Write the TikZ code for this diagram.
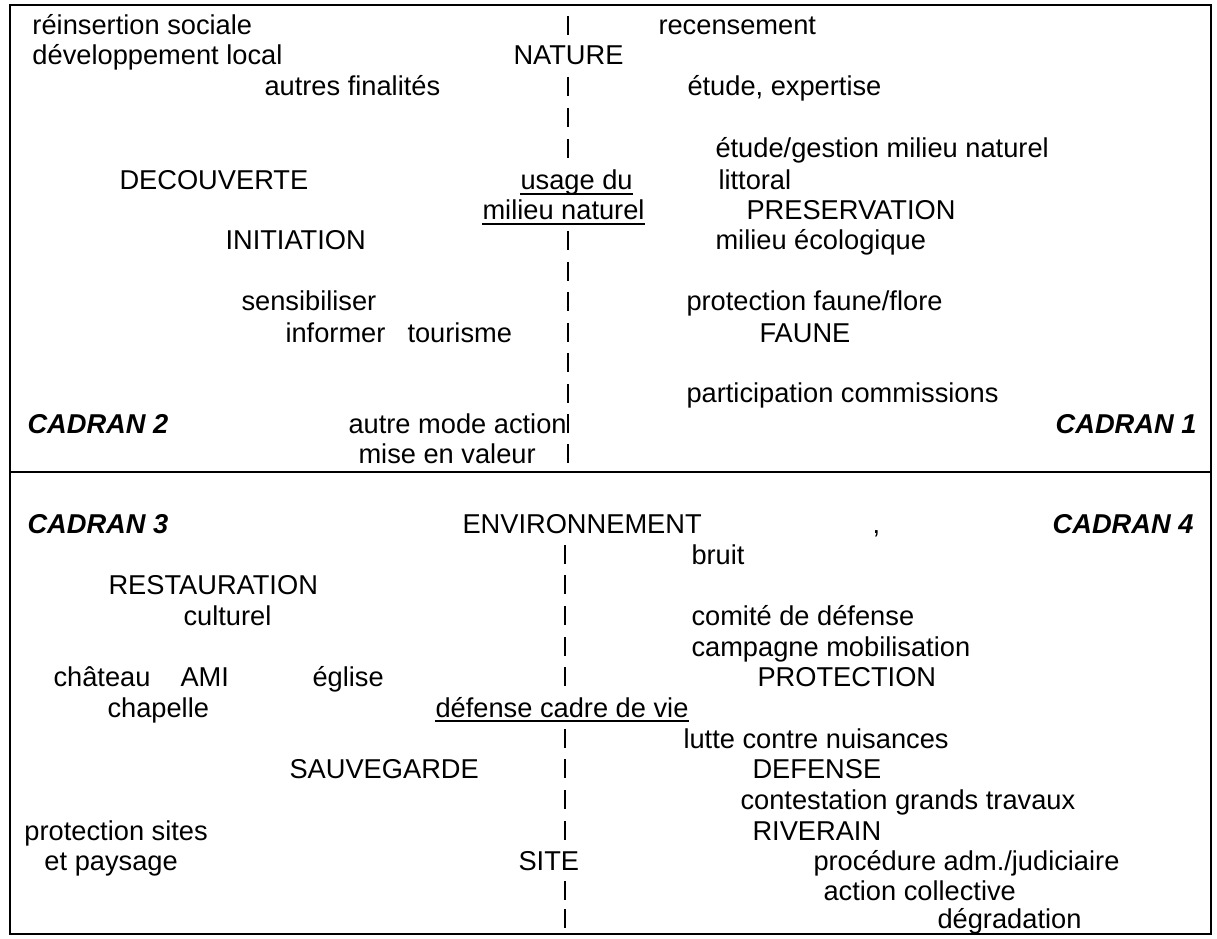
\documentclass[tikz,border=0pt]{standalone}
\usepackage{fontspec}
\setmainfont{Liberation Sans}
\usepackage{tikz}

\tikzset{
  lbl/.style={anchor=base west, inner sep=0pt, font=\fontsize{10.9}{13}\selectfont},
  cadran/.style={lbl, font=\fontsize{10.9}{13}\selectfont\bfseries\itshape},
  axistick/.style={line width=1pt},
  uline/.style={line width=0.6pt},
  frame/.style={line width=0.8pt}
}

\begin{document}
\begin{tikzpicture}[x=0.4pt,y=-0.4pt]

	\useasboundingbox (0,0) rectangle (1217,938);
	\def\axistop{568}
	\def\axisbot{565}

	% frame and the two halves
	\draw[frame] (10,5) rectangle (1211,934);
	\draw[frame] (10,472) -- (1211,472);

	% top half, left
	\node[lbl] (reinsertion) at (32,35) {réinsertion sociale};
	\node[lbl] (devlocal) at (32,65) {développement local};
	\node[lbl] (nature) at (513,65) {NATURE};
	\node[lbl] (finalites) at (264,96) {autres finalités};
	\node[lbl] (decouverte) at (119,190) {DECOUVERTE};
	\node[lbl] (usage) at (520,190) {usage du};
	\node[lbl] (milieu) at (482,220) {milieu naturel};
	\node[lbl] (initiation) at (225,250) {INITIATION};
	\node[lbl] (sensib) at (241,311) {sensibiliser};
	\node[lbl] (informer) at (285,342) {informer};
	\node[lbl] (tourisme) at (407,342) {tourisme};
	\node[cadran] (cadrantwo) at (27,433) {CADRAN 2};
	\node[lbl] (autremode) at (348,433) {autre mode action};
	\node[lbl] (misevaleur) at (358,463) {mise en valeur};

	% top half, right
	\node[lbl] (recensement) at (658,35) {recensement};
	\node[lbl] (expertise) at (687,96) {étude, expertise};
	\node[lbl] (gestion) at (715,158) {étude/gestion milieu naturel};
	\node[lbl] (littoral) at (718,190) {littoral};
	\node[lbl] (preservation) at (746,220) {PRESERVATION};
	\node[lbl] (ecologique) at (715,250) {milieu écologique};
	\node[lbl] (fauneflore) at (686,311) {protection faune/flore};
	\node[lbl] (faune) at (759,342) {FAUNE};
	\node[lbl] (commissions) at (686,403) {participation commissions};
	\node[cadran, anchor=base east] (cadranone) at (1197,433) {CADRAN 1};

	% bottom half, left
	\node[cadran] (cadranthree) at (27,533) {CADRAN 3};
	\node[lbl] (environnement) at (462,533) {ENVIRONNEMENT};
	\node[lbl] (restauration) at (108,594) {RESTAURATION};
	\node[lbl] (culturel) at (183,625) {culturel};
	\node[lbl] (chateau) at (53,686) {château};
	\node[lbl] (ami) at (180,686) {AMI};
	\node[lbl] (eglise) at (312,686) {église};
	\node[lbl] (chapelle) at (107,717) {chapelle};
	\node[lbl] (cadrevie) at (435,717) {défense cadre de vie};
	\node[lbl] (sauvegarde) at (289,778) {SAUVEGARDE};
	\node[lbl] (sites) at (24,840) {protection sites};
	\node[lbl] (paysage) at (44,870) {et paysage};
	\node[lbl] (site) at (518,870) {SITE};

	% bottom half, right
	\node[lbl] (comma) at (872,533) {,};
	\node[cadran, anchor=base east] (cadranfour) at (1194,533) {CADRAN 4};
	\node[lbl] (bruit) at (691,564) {bruit};
	\node[lbl] (comite) at (691,625) {comité de défense};
	\node[lbl] (campagne) at (691,656) {campagne mobilisation};
	\node[lbl] (protection) at (757,686) {PROTECTION};
	\node[lbl] (nuisances) at (683,748) {lutte contre nuisances};
	\node[lbl] (defense) at (752,778) {DEFENSE};
	\node[lbl] (travaux) at (740,809) {contestation grands travaux};
	\node[lbl] (riverain) at (752,840) {RIVERAIN};
	\node[lbl] (procedure) at (813,870) {procédure adm./judiciaire};
	\node[lbl] (collective) at (823,900) {action collective};
	\node[lbl] (degradation) at (937,928) {dégradation};

	% underlined headings
	\foreach \n in {usage,milieu,cadrevie}
		\draw[uline] ([yshift=-1.6pt]\n.base west) -- ([yshift=-1.6pt]\n.base east);

	% the dashed axis
	\foreach \y in {35,96,127,158,250,281,311,342,372,403,433,463}
		\draw[axistick] (\axistop,\y-19) -- (\axistop,\y);
	\foreach \y in {564,594,625,656,686,748,778,809,840,900,928}
		\draw[axistick] (\axisbot,\y-19) -- (\axisbot,\y);

\end{tikzpicture}
\end{document}
